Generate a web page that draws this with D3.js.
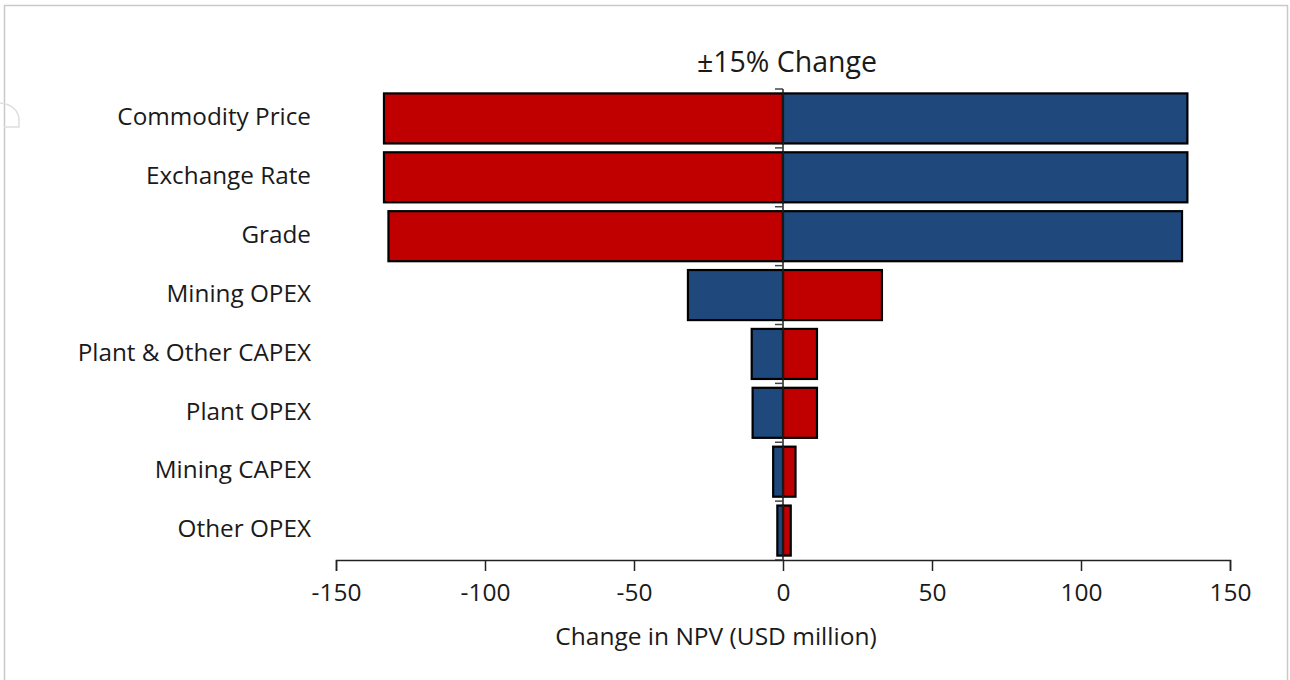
<!DOCTYPE html>
<html>
<head>
<meta charset="utf-8">
<script src="https://cdn.jsdelivr.net/npm/d3@7"></script>
<style>
  html, body { margin: 0; padding: 0; background: #fff; }
  svg text { font-family: "Open Sans", Lato, sans-serif; fill: #1a1a1a; }
</style>
</head>
<body>
<svg id="chart" width="1290" height="680"></svg>
<script>
// tornado chart, NPV sensitivity at +/-15%
const categories = ['Commodity Price', 'Exchange Rate', 'Grade', 'Mining OPEX',
                    'Plant & Other CAPEX', 'Plant OPEX', 'Mining CAPEX', 'Other OPEX'];
const minus15 = [-133.9, -133.9, -132.4, 33.2, 11.4, 11.4, 4.2, 2.6];   // red
const plus15  = [135.7, 135.7, 133.9, -31.9, -10.5, -10.2, -3.3, -1.9]; // blue
const xTicks = [-150, -100, -50, 0, 50, 100, 150];

const RED = '#c00000', BLUE = '#1f497d';

const svg = d3.select('#chart');

// outer frame (bottom runs off the picture)
svg.append('rect')
    .attr('x', 4.5).attr('y', 5.5)
    .attr('width', 1283).attr('height', 700)
    .attr('fill', 'none').attr('stroke', '#c9c9c9').attr('stroke-width', 1.5);

// faint leftover mark at the left edge
svg.append('path')
    .attr('d', 'M0,103 C12,104 19,111 19,120 L19,127 L4,127')
    .attr('fill', 'none').attr('stroke', '#dedede').attr('stroke-width', 1.5);

const x = d3.scaleLinear().domain([-150, 150]).range([336, 1230]);
const y = d3.scaleBand().domain(categories).range([89, 560])
    .paddingInner(0.15).paddingOuter(0.075);

const rows = categories.map((c, i) => ({ c, lo: minus15[i], hi: plus15[i] }));

function bars(key, color) {
    svg.append('g').selectAll('rect')
        .data(rows).enter().append('rect')
        .attr('x', d => x(Math.min(0, d[key])))
        .attr('y', d => y(d.c))
        .attr('width', d => Math.abs(x(d[key]) - x(0)))
        .attr('height', y.bandwidth())
        .attr('fill', color)
        .attr('stroke', '#000')
        .attr('stroke-width', 2.2);
}
bars('lo', RED);
bars('hi', BLUE);

// vertical zero axis with category ticks pointing left
const step = y.step();
const bounds = d3.range(categories.length + 1).map(i => 89 + i * step);
const zAxis = svg.append('g');
zAxis.append('line')
    .attr('x1', x(0)).attr('x2', x(0))
    .attr('y1', 89).attr('y2', 560)
    .attr('stroke', '#222').attr('stroke-width', 1.5);
zAxis.selectAll('line.tk').data(bounds).enter().append('line')
    .attr('class', 'tk')
    .attr('x1', x(0) - 8).attr('x2', x(0))
    .attr('y1', d => d).attr('y2', d => d)
    .attr('stroke', '#444').attr('stroke-width', 1.5);

// category labels
svg.append('g').selectAll('text')
    .data(categories).enter().append('text')
    .attr('x', 311)
    .attr('y', d => y(d) + y.bandwidth() / 2)
    .attr('dy', '0.28em')
    .attr('text-anchor', 'end')
    .style('font-size', '24.3px')
    .text(d => d);

// bottom axis
const xAxis = svg.append('g')
    .attr('transform', 'translate(0,560)')
    .call(d3.axisBottom(x).tickValues(xTicks).tickSize(11).tickPadding(13)
        .tickFormat(d => String(d)));
xAxis.select('.domain').attr('stroke', '#222').attr('stroke-width', 1.5);
xAxis.selectAll('.tick line').attr('stroke', '#222').attr('stroke-width', 1.5);
xAxis.selectAll('.tick text')
    .style('font-size', '24.5px')
    .style('font-family', '"Open Sans", sans-serif')
    .attr('fill', '#1a1a1a');

svg.append('text')
    .attr('x', 716).attr('y', 645)
    .attr('text-anchor', 'middle')
    .style('font-size', '24.5px')
    .text('Change in NPV (USD million)');

svg.append('text')
    .attr('x', 787).attr('y', 72)
    .attr('text-anchor', 'middle')
    .style('font-size', '28.5px')
    .text('±15% Change');
</script>
</body>
</html>
